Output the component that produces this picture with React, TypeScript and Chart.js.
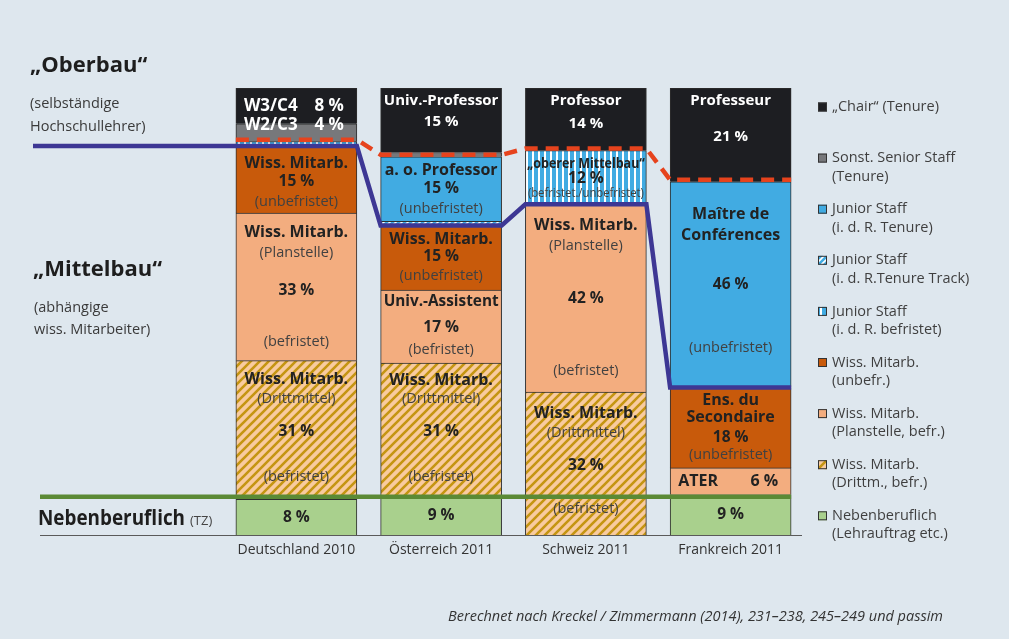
import React, { useEffect, useRef } from 'react';
import { Chart, registerables } from 'chart.js';
Chart.register(...registerables);

// ---------------- data ----------------
const categories = ['Deutschland 2010', 'Österreich 2011', 'Schweiz 2011', 'Frankreich 2011'];
const chairTenure = [8, 15, 14, 21];
const seniorStaffTenure = [4, 1, 0, 0];
const juniorTenure = [0, 15, 0, 46];
const juniorTenureTrack = [0, 1, 0, 0];
const juniorFixedTerm = [1, 0, 12, 0];
const wissUnbefristet = [15, 15, 0, 18];
const wissPlanstelle = [33, 17, 42, 6];
const wissDrittmittel = [31, 31, 32, 0];
const nebenberuflich = [8, 9, 0, 9];

const legendChair = ['„Chair“ (Tenure)'];
const legendSenior = ['Sonst. Senior Staff', '(Tenure)'];
const legendJuniorTenure = ['Junior Staff', '(i. d. R. Tenure)'];
const legendJuniorTT = ['Junior Staff', '(i. d. R.Tenure Track)'];
const legendJuniorFixed = ['Junior Staff', '(i. d. R. befristet)'];
const legendUnbefr = ['Wiss. Mitarb.', '(unbefr.)'];
const legendPlan = ['Wiss. Mitarb.', '(Planstelle, befr.)'];
const legendDritt = ['Wiss. Mitarb.', '(Drittm., befr.)'];
const legendNeben = ['Nebenberuflich', '(Lehrauftrag etc.)'];

// ---------------- styles ----------------
const FONT = '"Open Sans", "Noto Sans", sans-serif';
const BG = '#dee7ee';
const BAR_W = 121;

type Line = { t: string; s: string; dy?: number; r?: string; mw?: number };
type Labels = (Line[] | null)[];

const TS: Record<string, { font: string; color: string }> = {
  w: { font: `bold 15px ${FONT}`, color: '#ffffff' },
  wb: { font: `bold 17px ${FONT}`, color: '#ffffff' },
  h: { font: `bold 16px ${FONT}`, color: '#222222' },
  p: { font: `bold 15.5px ${FONT}`, color: '#222222' },
  hc: { font: `bold 14px ${FONT}`, color: '#222222' },
  s: { font: `14.5px ${FONT}`, color: '#414141' },
  xs: { font: `13px ${FONT}`, color: '#414141' },
};

const chairText: Labels = [
  [{ t: 'W3/C4', r: '8 %', s: 'wb', dy: 18 }],
  [{ t: 'Univ.-Professor', s: 'w', dy: 13 }, { t: '15 %', s: 'w', dy: 34 }],
  [{ t: 'Professor', s: 'w', dy: 13 }, { t: '14 %', s: 'w', dy: 36 }],
  [{ t: 'Professeur', s: 'w', dy: 13 }, { t: '21 %', s: 'w', dy: 49 }],
];
const seniorText: Labels = [[{ t: 'W2/C3', r: '4 %', s: 'wb', dy: 1 }], null, null, null];
const juniorTenureText: Labels = [
  null,
  [{ t: 'a. o. Professor', s: 'h', dy: 14 }, { t: '15 %', s: 'p', dy: 32 }, { t: '(unbefristet)', s: 's', dy: 52 }],
  null,
  [{ t: 'Maître de', s: 'h', dy: 33 }, { t: 'Conférences', s: 'h', dy: 54 }, { t: '46 %', s: 'p', dy: 103 }, { t: '(unbefristet)', s: 's', dy: 166 }],
];
const juniorFixedText: Labels = [
  null,
  null,
  [{ t: '„oberer Mittelbau“', s: 'hc', dy: 13, mw: 118 }, { t: '12 %', s: 'p', dy: 28 }, { t: '(befristet./unbefristet)', s: 'xs', dy: 43, mw: 116 }],
  null,
];
const unbefrText: Labels = [
  [{ t: 'Wiss. Mitarb.', s: 'h', dy: 17 }, { t: '15 %', s: 'p', dy: 35 }, { t: '(unbefristet)', s: 's', dy: 56 }],
  [{ t: 'Wiss. Mitarb.', s: 'h', dy: 14 }, { t: '15 %', s: 'p', dy: 31 }, { t: '(unbefristet)', s: 's', dy: 50 }],
  null,
  [{ t: 'Ens. du', s: 'h', dy: 13 }, { t: 'Secondaire', s: 'h', dy: 30 }, { t: '18 %', s: 'p', dy: 50 }, { t: '(unbefristet)', s: 's', dy: 67 }],
];
const planText: Labels = [
  [{ t: 'Wiss. Mitarb.', s: 'h', dy: 19 }, { t: '(Planstelle)', s: 's', dy: 40 }, { t: '33 %', s: 'p', dy: 77 }, { t: '(befristet)', s: 's', dy: 129 }],
  [{ t: 'Univ.-Assistent', s: 'h', dy: 11 }, { t: '17 %', s: 'p', dy: 38 }, { t: '(befristet)', s: 's', dy: 60 }],
  [{ t: 'Wiss. Mitarb.', s: 'h', dy: 21 }, { t: '(Planstelle)', s: 's', dy: 42 }, { t: '42 %', s: 'p', dy: 94 }, { t: '(befristet)', s: 's', dy: 167 }],
  [{ t: 'ATER', r: '6 %', s: 'h' }],
];
const drittText: Labels = [
  [{ t: 'Wiss. Mitarb.', s: 'h', dy: 19 }, { t: '(Drittmittel)', s: 's', dy: 38 }, { t: '31 %', s: 'p', dy: 71 }, { t: '(befristet)', s: 's', dy: 116 }],
  [{ t: 'Wiss. Mitarb.', s: 'h', dy: 17 }, { t: '(Drittmittel)', s: 's', dy: 36 }, { t: '31 %', s: 'p', dy: 69 }, { t: '(befristet)', s: 's', dy: 114 }],
  [{ t: 'Wiss. Mitarb.', s: 'h', dy: 21 }, { t: '(Drittmittel)', s: 's', dy: 41 }, { t: '32 %', s: 'p', dy: 74 }, { t: '(befristet)', s: 's', dy: 117 }],
  null,
];
const nebenText: Labels = [[{ t: '8 %', s: 'p' }], [{ t: '9 %', s: 'p' }], null, [{ t: '9 %', s: 'p' }]];

// ---------------- fills ----------------
function tile(w: number, h: number, draw: (c: CanvasRenderingContext2D) => void): CanvasPattern {
  const cv = document.createElement('canvas');
  cv.width = w; cv.height = h;
  const c = cv.getContext('2d')!;
  draw(c);
  const main = document.createElement('canvas').getContext('2d')!;
  return main.createPattern(cv, 'repeat')!;
}
function diag(bg: string, fg: string, n: number, lw: number) {
  return tile(n, n, (c) => {
    c.fillStyle = bg; c.fillRect(0, 0, n, n);
    c.strokeStyle = fg; c.lineWidth = lw; c.lineCap = 'square';
    c.beginPath();
    c.moveTo(-1, n + 1); c.lineTo(n + 1, -1);
    c.moveTo(-1, 1); c.lineTo(1, -1);
    c.moveTo(n - 1, n + 1); c.lineTo(n + 1, n - 1);
    c.stroke();
  });
}

export default function App() {
  const ref = useRef<HTMLCanvasElement>(null);
  useEffect(() => {
    const canvas = ref.current!;
    const BLUE = '#41abe2';
    const fDritt = diag('#f8cb9f', '#c59512', 9, 2.6);
    const fTT = diag(BLUE, '#ffffff', 6, 1.6);
    const fFixed = tile(6, 6, (c) => {
      c.fillStyle = BLUE; c.fillRect(0, 0, 6, 6);
      c.fillStyle = '#ffffff'; c.fillRect(4, 0, 2, 6);
    });

    // legend order (top to bottom)
    const series = [
      { key: 'chair', values: chairTenure, legend: legendChair, fill: '#1d1e22' as any, text: chairText },
      { key: 'senior', values: seniorStaffTenure, legend: legendSenior, fill: '#77787b' as any, text: seniorText },
      { key: 'jt', values: juniorTenure, legend: legendJuniorTenure, fill: BLUE as any, text: juniorTenureText },
      { key: 'tt', values: juniorTenureTrack, legend: legendJuniorTT, fill: fTT as any, text: null },
      { key: 'jf', values: juniorFixedTerm, legend: legendJuniorFixed, fill: fFixed as any, text: juniorFixedText },
      { key: 'unbefr', values: wissUnbefristet, legend: legendUnbefr, fill: '#c85a0b' as any, text: unbefrText },
      { key: 'plan', values: wissPlanstelle, legend: legendPlan, fill: '#f3ad7f' as any, text: planText },
      { key: 'dritt', values: wissDrittmittel, legend: legendDritt, fill: fDritt as any, text: drittText },
      { key: 'neben', values: nebenberuflich, legend: legendNeben, fill: '#a9d08d' as any, text: nebenText },
    ];
    const stack = [...series].reverse(); // bottom to top
    const totals = categories.map((_, j) => series.reduce((a, s) => a + s.values[j], 0));
    const norm = stack.map((s) => s.values.map((v, j) => (v > 0 ? (v / totals[j]) * 100 : null)));
    const cum = (upto: number, j: number) => {
      let t = 0;
      for (let i = 0; i <= upto; i++) t += norm[i][j] || 0;
      return t;
    };
    const idx = (key: string) => stack.findIndex((s) => s.key === key);

    const overlay = {
      id: 'overlay',
      afterDatasetsDraw(chart: any) {
        const ctx: CanvasRenderingContext2D = chart.ctx;
        const xs = chart.scales.x, ys = chart.scales.y;
        const cx = categories.map((_, j) => xs.getPixelForValue(j));
        const L = cx.map((c) => c - BAR_W / 2), R = cx.map((c) => c + BAR_W / 2);
        const py = (v: number) => ys.getPixelForValue(v);
        ctx.save();

        // baseline
        ctx.strokeStyle = '#5a5a5a'; ctx.lineWidth = 1;
        ctx.beginPath(); ctx.moveTo(40, Math.round(py(0)) + 0.5); ctx.lineTo(802, Math.round(py(0)) + 0.5); ctx.stroke();

        // segment texts
        stack.forEach((s, i) => {
          if (!s.text) return;
          categories.forEach((_, j) => {
            const lines = s.text![j];
            if (!lines || !norm[i][j]) return;
            const top = py(cum(i, j)), bot = py(cum(i - 1, j));
            lines.forEach((ln) => {
              const st = TS[ln.s];
              ctx.font = st.font; ctx.fillStyle = st.color; ctx.textBaseline = 'middle';
              const y = ln.dy === undefined ? (top + bot) / 2 : top + ln.dy;
              if (ln.r) {
                ctx.textAlign = 'left'; ctx.fillText(ln.t, L[j] + 8, y);
                ctx.textAlign = 'right'; ctx.fillText(ln.r, R[j] - 13, y);
              } else {
                ctx.textAlign = 'center';
                if (ln.mw) ctx.fillText(ln.t, cx[j], y, ln.mw); else ctx.fillText(ln.t, cx[j], y, BAR_W - 6);
              }
            });
          });
        });

        // green line (Nebenberuflich boundary)
        const nb = idx('neben');
        const gys = categories.map((_, j) => (norm[nb][j] ? py(cum(nb, j)) : null)).filter((v) => v !== null) as number[];
        const gy = gys.reduce((a, b) => a + b, 0) / gys.length;
        ctx.strokeStyle = '#5b8a35'; ctx.lineWidth = 4.5;
        ctx.beginPath(); ctx.moveTo(40, gy); ctx.lineTo(R[3], gy); ctx.stroke();

        // purple line (Mittelbau boundary)
        const ub = idx('unbefr');
        ctx.strokeStyle = '#3d3794'; ctx.lineWidth = 4.5; ctx.lineJoin = 'miter';
        ctx.beginPath();
        categories.forEach((_, j) => {
          const y = py(cum(ub, j));
          if (j === 0) ctx.moveTo(33, y); else ctx.lineTo(L[j], y);
          ctx.lineTo(R[j], y);
        });
        ctx.stroke();

        // red dashed line (Oberbau boundary)
        const jt = idx('jt');
        ctx.strokeStyle = '#e6431d'; ctx.lineWidth = 4.5; ctx.setLineDash([13, 8]);
        ctx.beginPath();
        categories.forEach((_, j) => {
          const y = py(cum(jt, j)) - 2;
          if (j === 0) ctx.moveTo(L[j], y); else ctx.lineTo(L[j], y);
          ctx.lineTo(R[j], y);
        });
        ctx.stroke();
        ctx.setLineDash([]);

        // left side labels
        ctx.textAlign = 'left'; ctx.textBaseline = 'middle';
        ctx.fillStyle = '#1e1e1e'; ctx.font = `bold 22px ${FONT}`;
        ctx.fillText('„Oberbau“', 30, 66);
        ctx.fillText('„Mittelbau“', 33, 270);
        ctx.fillText('Nebenberuflich', 38, 519, 147);
        ctx.fillStyle = '#444'; ctx.font = `13px ${FONT}`;
        ctx.fillText('(TZ)', 190, 521);
        ctx.font = `14.5px ${FONT}`; ctx.fillStyle = '#3a3a3a';
        ctx.fillText('(selbständige', 30, 104);
        ctx.fillText('Hochschullehrer)', 30, 127);
        ctx.fillText('(abhängige', 34, 308);
        ctx.fillText('wiss. Mitarbeiter)', 34, 330);

        // legend
        series.forEach((s, i) => {
          const y = 107 + 51.1 * i;
          ctx.fillStyle = s.fill; ctx.fillRect(818, y - 4.5, 9, 9);
          ctx.strokeStyle = '#333'; ctx.lineWidth = 1; ctx.strokeRect(818.5, y - 4, 8, 8);
          ctx.fillStyle = '#3f3f3f'; ctx.font = `14.5px ${FONT}`; ctx.textAlign = 'left';
          s.legend.forEach((t, k) => ctx.fillText(t, 832, y + k * 18.5));
        });

        // source
        ctx.font = `italic 14.5px ${FONT}`; ctx.fillStyle = '#333'; ctx.textAlign = 'right';
        ctx.fillText('Berechnet nach Kreckel / Zimmermann (2014), 231–238, 245–249 und passim', 943, 617);
        ctx.restore();
      },
    };

    const chart = new Chart(canvas, {
      type: 'bar',
      data: {
        labels: categories,
        datasets: stack.map((s, i) => ({
          label: s.legend.join(' '),
          data: norm[i] as any,
          backgroundColor: s.fill,
          borderColor: '#2e2e2e',
          borderWidth: { top: 1, left: 1, right: 1, bottom: 0 },
          borderSkipped: false,
          barThickness: BAR_W,
        })),
      },
      options: {
        animation: false,
        responsive: false,
        layout: { padding: { left: 224, right: 206, top: 88, bottom: 0 } },
        plugins: { legend: { display: false }, tooltip: { enabled: false } },
        scales: {
          x: {
            stacked: true,
            grid: { display: false },
            border: { display: false },
            ticks: { color: '#333', font: { family: FONT, size: 14 }, padding: -1 },
            afterFit: (sc: any) => { sc.height = 104; },
          },
          y: { stacked: true, display: false, min: 0, max: 100 },
        },
      } as any,
      plugins: [overlay],
    });
    return () => chart.destroy();
  }, []);
  return (
    <div style={{ position: 'fixed', left: 0, top: 0, width: 1009, height: 639, background: BG }}>
      <canvas ref={ref} width={1009} height={639} style={{ display: 'block' }} />
    </div>
  );
}
